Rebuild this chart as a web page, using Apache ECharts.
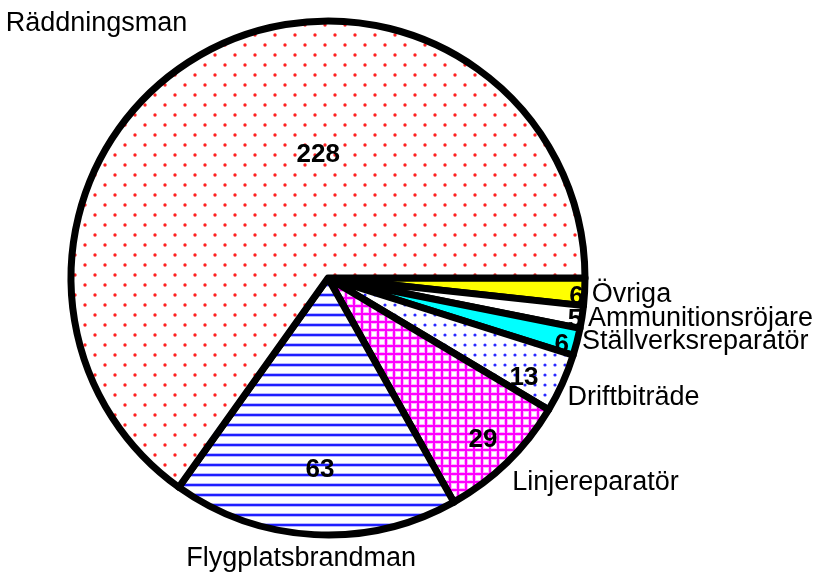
<!DOCTYPE html>
<html>
<head>
<meta charset="utf-8">
<title>Yrken</title>
<script src="https://cdn.jsdelivr.net/npm/echarts@6/dist/echarts.min.js"></script>
<style>
  html, body { margin: 0; padding: 0; background: #fff; }
  #main { width: 819px; height: 578px; }
</style>
</head>
<body>
<div id="main"></div>
<script>
// data
var categories = ["Övriga", "Ammunitionsröjare", "Ställverksreparatör", "Driftbiträde", "Linjereparatör", "Flygplatsbrandman", "Räddningsman"];
var values = [6, 5, 6, 13, 29, 63, 228];

(function () {
  var cx = 328, cy = 278, R = 257;
  var font = "'Liberation Sans', Arial, sans-serif";

  // small repeating tiles for the hatch fills
  function tile(w, h, draw) {
    var c = document.createElement("canvas");
    c.width = w; c.height = h;
    var ctx = c.getContext("2d");
    ctx.fillStyle = "#fff";
    ctx.fillRect(0, 0, w, h);
    draw(ctx);
    return { image: c, repeat: "repeat" };
  }
  function dot(ctx, x, y, r, col) {
    ctx.fillStyle = col;
    ctx.beginPath();
    ctx.arc(x, y, r, 0, Math.PI * 2);
    ctx.fill();
  }
  var redDots = tile(20, 20, function (ctx) {
    dot(ctx, 5, 5, 1.7, "#ff2020");
    dot(ctx, 15, 15, 1.7, "#ff2020");
  });
  var blueDots = tile(10, 10, function (ctx) {
    dot(ctx, 5, 5, 1.6, "#2828ff");
  });
  var blueLines = tile(10, 10, function (ctx) {
    ctx.fillStyle = "#b8b8ff";
    ctx.fillRect(0, 3, 10, 4);
    ctx.fillStyle = "#1f1fff";
    ctx.fillRect(0, 4, 10, 2);
  });
  var pinkGrid = tile(8, 8, function (ctx) {
    ctx.fillStyle = "#ffb0ff";
    ctx.fillRect(0, 0, 8, 4);
    ctx.fillRect(0, 0, 4, 8);
    ctx.fillStyle = "#fff";
    ctx.fillRect(4, 4, 4, 4);
    ctx.fillStyle = "#ff00ff";
    ctx.fillRect(0, 1, 8, 2);
    ctx.fillRect(1, 0, 2, 8);
  });

  var fills = ["#ffff00", "#ffffff", "#00ffff", blueDots, pinkGrid, blueLines, redDots];
  // value labels: fraction of radius, turn from the slice middle (deg)
  var valueSpot = [[0.97, 1.3], [0.975, 0.9], [0.946, 1.6], [0.856, 2.8], [0.872, 0.5], [0.747, -0.7], [0.48, 22.7]];
  // name labels: offset from the rim point at the slice middle
  var nameSpot = [[7, 3, "left"], [6, 1, "left"], [5, 0, "left"], [5, 14, "left"], [5, 20, "left"], [-13, 24, "center"], [-23, -26, "right"]];

  var total = values.reduce(function (a, b) { return a + b; }, 0);
  var mids = [];
  var run = 0;
  values.forEach(function (v) {
    mids.push((run + v / 2) / total * 360);
    run += v;
  });

  var data = categories.map(function (name, i) {
    return { name: name, value: values[i], itemStyle: { color: fills[i] } };
  });

  var myChart = echarts.init(document.getElementById("main"));
  var option = {
    backgroundColor: "#fff",
    animation: false,
    series: [
      {
        type: "pie",
        center: [cx, cy],
        radius: R,
        startAngle: 0,
        clockwise: true,
        avoidLabelOverlap: false,
        data: data,
        itemStyle: { borderColor: "#000", borderWidth: 7, borderJoin: "round" },
        label: {
          show: true,
          position: "inside",
          formatter: "{c}",
          color: "#000",
          fontFamily: font,
          fontWeight: "bold",
          fontSize: 26
        },
        labelLine: { show: false },
        labelLayout: function (p) {
          var s = valueSpot[p.dataIndex];
          var a = (mids[p.dataIndex] + s[1]) * Math.PI / 180;
          return {
            x: cx + s[0] * R * Math.cos(a),
            y: cy + s[0] * R * Math.sin(a),
            align: "center",
            verticalAlign: "middle"
          };
        }
      },
      {
        type: "pie",
        center: [cx, cy],
        radius: R,
        startAngle: 0,
        clockwise: true,
        silent: true,
        avoidLabelOverlap: false,
        data: categories.map(function (name, i) { return { name: name, value: values[i] }; }),
        itemStyle: { color: "rgba(0,0,0,0)", borderWidth: 0 },
        label: {
          show: true,
          position: "outside",
          formatter: "{b}",
          color: "#000",
          fontFamily: font,
          fontSize: 27
        },
        labelLine: { show: false },
        labelLayout: function (p) {
          var s = nameSpot[p.dataIndex];
          var a = mids[p.dataIndex] * Math.PI / 180;
          return {
            x: cx + R * Math.cos(a) + s[0],
            y: cy + R * Math.sin(a) + s[1],
            align: s[2],
            verticalAlign: "middle"
          };
        }
      }
    ]
  };
  myChart.setOption(option);
  window.addEventListener("resize", function () {
    myChart.resize();
  });
})();
</script>
</body>
</html>
